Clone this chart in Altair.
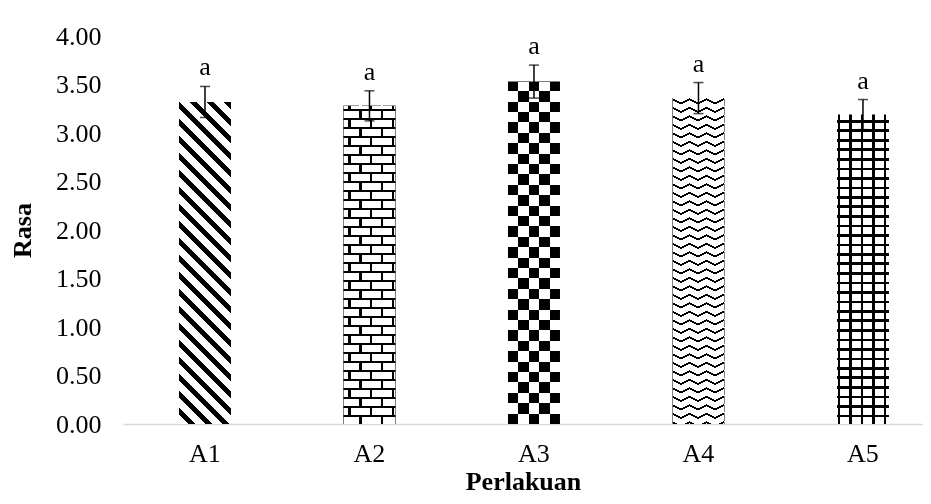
import math
import altair as alt
import pandas as pd

# ---------------- data ----------------
categories = ["A1", "A2", "A3", "A4", "A5"]
means = [3.32, 3.28, 3.53, 3.36, 3.19]
errors = [0.16, 0.155, 0.17, 0.16, 0.155]
letters = ["a", "a", "a", "a", "a"]
y_ticks = [0, 0.5, 1, 1.5, 2, 2.5, 3, 3.5, 4]

# ---------------- layout constants ----------------
PLOT_W = 800
PLOT_H = 388
Y_MAX = 4.0
BAR_W = 52.0
PX = PLOT_H / Y_MAX
FONT = "Liberation Serif"
FS = 26

df = pd.DataFrame({
    "cat": categories,
    "mean": means,
    "lo": [m - e for m, e in zip(means, errors)],
    "hi": [m + e for m, e in zip(means, errors)],
    "letter": letters,
})


# ---------------- pattern helpers (gradient fills) ----------------
def segments(length, period, start, width):
    out = []
    k = math.floor((0 - start - width) / period) - 1
    while True:
        a = start + k * period
        if a > length:
            break
        b = a + width
        a2, b2 = max(a, 0.0), min(b, length)
        if b2 > a2:
            out.append((a2, b2))
        k += 1
    return out


def stops_from(length, intervals, line="#000000", bg="#ffffff"):
    stops = []

    def add(o, c):
        o = round(min(max(o / length, 0.0), 1.0), 5)
        if stops and o < stops[-1]["offset"]:
            o = stops[-1]["offset"]
        stops.append({"offset": o, "color": c})

    pos = 0.0
    for a, b in intervals:
        if a > pos:
            add(pos, bg)
            add(a, bg)
        add(a, line)
        add(b, line)
        pos = b
    if pos < length:
        add(pos, bg)
        add(length, bg)
    return stops


def grad_x(W, intervals):
    return {"gradient": "linear", "x1": 0, "y1": 0, "x2": 1, "y2": 0,
            "stops": stops_from(W, intervals)}


def grad_y(H, intervals):
    return {"gradient": "linear", "x1": 0, "y1": 0, "x2": 0, "y2": 1,
            "stops": stops_from(H, intervals)}


def grad_diag(W, H, s, period, width, phase=0.0):
    corners = {(0, 0): 0.0, (1, 0): -s * W, (0, 1): H, (1, 1): H - s * W}
    p1, fmin = min(corners.items(), key=lambda kv: kv[1])
    fmax = max(corners.values())
    R = fmax - fmin
    gx, gy = -s * W / R, H / R
    n2 = gx * gx + gy * gy
    vx, vy = gx / n2, gy / n2
    iv = segments(R, period, phase - fmin, width)
    return {"gradient": "linear", "x1": p1[0], "y1": p1[1],
            "x2": round(p1[0] + vx, 6), "y2": round(p1[1] + vy, 6),
            "stops": stops_from(R, iv)}


# ---------------- encodings ----------------
x_enc = alt.X(
    "cat:N", sort=categories, title="Perlakuan",
    scale=alt.Scale(paddingInner=0.6839, paddingOuter=0.2736, align=0.622),
    axis=alt.Axis(labelAngle=0, ticks=False, domainColor="#d9d9d9", domainWidth=1.5,
                  labelPadding=16, titlePadding=2),
)
y_enc = alt.Y(
    "mean:Q", title="Rasa",
    scale=alt.Scale(domain=[0, Y_MAX], nice=False, zero=True),
    axis=alt.Axis(values=y_ticks, format=".2f", grid=False, domain=False, ticks=False,
                  tickSize=0, labelPadding=22, titlePadding=20),
)

base = alt.Chart(df)


def bar_layer(cat, fill, blend=None):
    kw = {"fill": fill}
    if blend:
        kw["blend"] = blend
    return base.transform_filter(alt.datum.cat == cat).mark_bar(**kw).encode(x=x_enc, y=y_enc)


H = {c: m * PX for c, m in zip(categories, means)}
W = BAR_W
layers = []

# A1: diagonal stripes
layers.append(bar_layer("A1", grad_diag(W, H["A1"], 1.0, 17.0, 7.0)))

# A2: brick (rows anchored at the bar's base)
Pr, Bw, th = 9.0, 21.7, 2.2
ja = grad_x(W, segments(W, Bw, 5.0, th))
jb = grad_x(W, segments(W, Bw, 5.0 + Bw / 2, th))
h2 = H["A2"]
layers.append(bar_layer("A2", ja))
layers.append(bar_layer("A2", jb, "difference"))
layers.append(bar_layer("A2", grad_y(h2, segments(h2, 2 * Pr, (h2 % (2 * Pr)) + Pr, Pr)), "darken"))
layers.append(bar_layer("A2", jb, "difference"))
layers.append(bar_layer("A2", grad_y(h2, segments(h2, Pr, h2 % Pr, th)), "darken"))

# A3: checkerboard
c = 10.4
h3 = H["A3"]
layers.append(bar_layer("A3", grad_x(W, segments(W, 2 * c, c, c))))
layers.append(bar_layer("A3", grad_y(h3, segments(h3, 2 * c, h3 % (2 * c), c)), "difference"))

# A4: waves (zigzag)
P4, w4, th4 = 8.5, 8.5, 2.2
ia = grad_diag(W, H["A4"], 0.5, P4, th4)
ib = grad_diag(W, H["A4"], -0.5, P4, th4)
layers.append(bar_layer("A4", ia))
layers.append(bar_layer("A4", ib, "difference"))
layers.append(bar_layer("A4", grad_x(W, segments(W, 2 * w4, w4, w4)), "darken"))
layers.append(bar_layer("A4", ib, "difference"))

# A5: grid
h5 = H["A5"]
layers.append(bar_layer("A5", grad_x(W, segments(W, 11.5, 0.7, 2.6))))
layers.append(bar_layer("A5", grad_y(h5, segments(h5, 9.5, h5 % 9.5, 2.6)), "darken"))

# error bars
layers.append(base.mark_rule(color="black", strokeWidth=1.5).encode(
    x=x_enc, y=alt.Y("lo:Q"), y2=alt.Y2("hi:Q")))
layers.append(base.mark_tick(color="black", size=10, thickness=1.5).encode(x=x_enc, y=alt.Y("lo:Q")))
layers.append(base.mark_tick(color="black", size=10, thickness=1.5).encode(x=x_enc, y=alt.Y("hi:Q")))

# letters
layers.append(base.mark_text(font=FONT, fontSize=FS, color="black", baseline="alphabetic", dy=-11).encode(
    x=x_enc, y=alt.Y("hi:Q"), text="letter:N"))

chart = alt.layer(*layers).properties(
    width=PLOT_W, height=PLOT_H,
    padding={"left": 115, "top": 28, "right": 0, "bottom": 72},
    autosize="none",
    background="white",
).configure_view(stroke=None).configure_axis(
    labelFont=FONT, labelFontSize=FS, labelColor="black",
    titleFont=FONT, titleFontSize=FS, titleFontWeight="bold", titleColor="black",
)

chart.save("out.html", embed_options={"renderer": "svg", "actions": False})
